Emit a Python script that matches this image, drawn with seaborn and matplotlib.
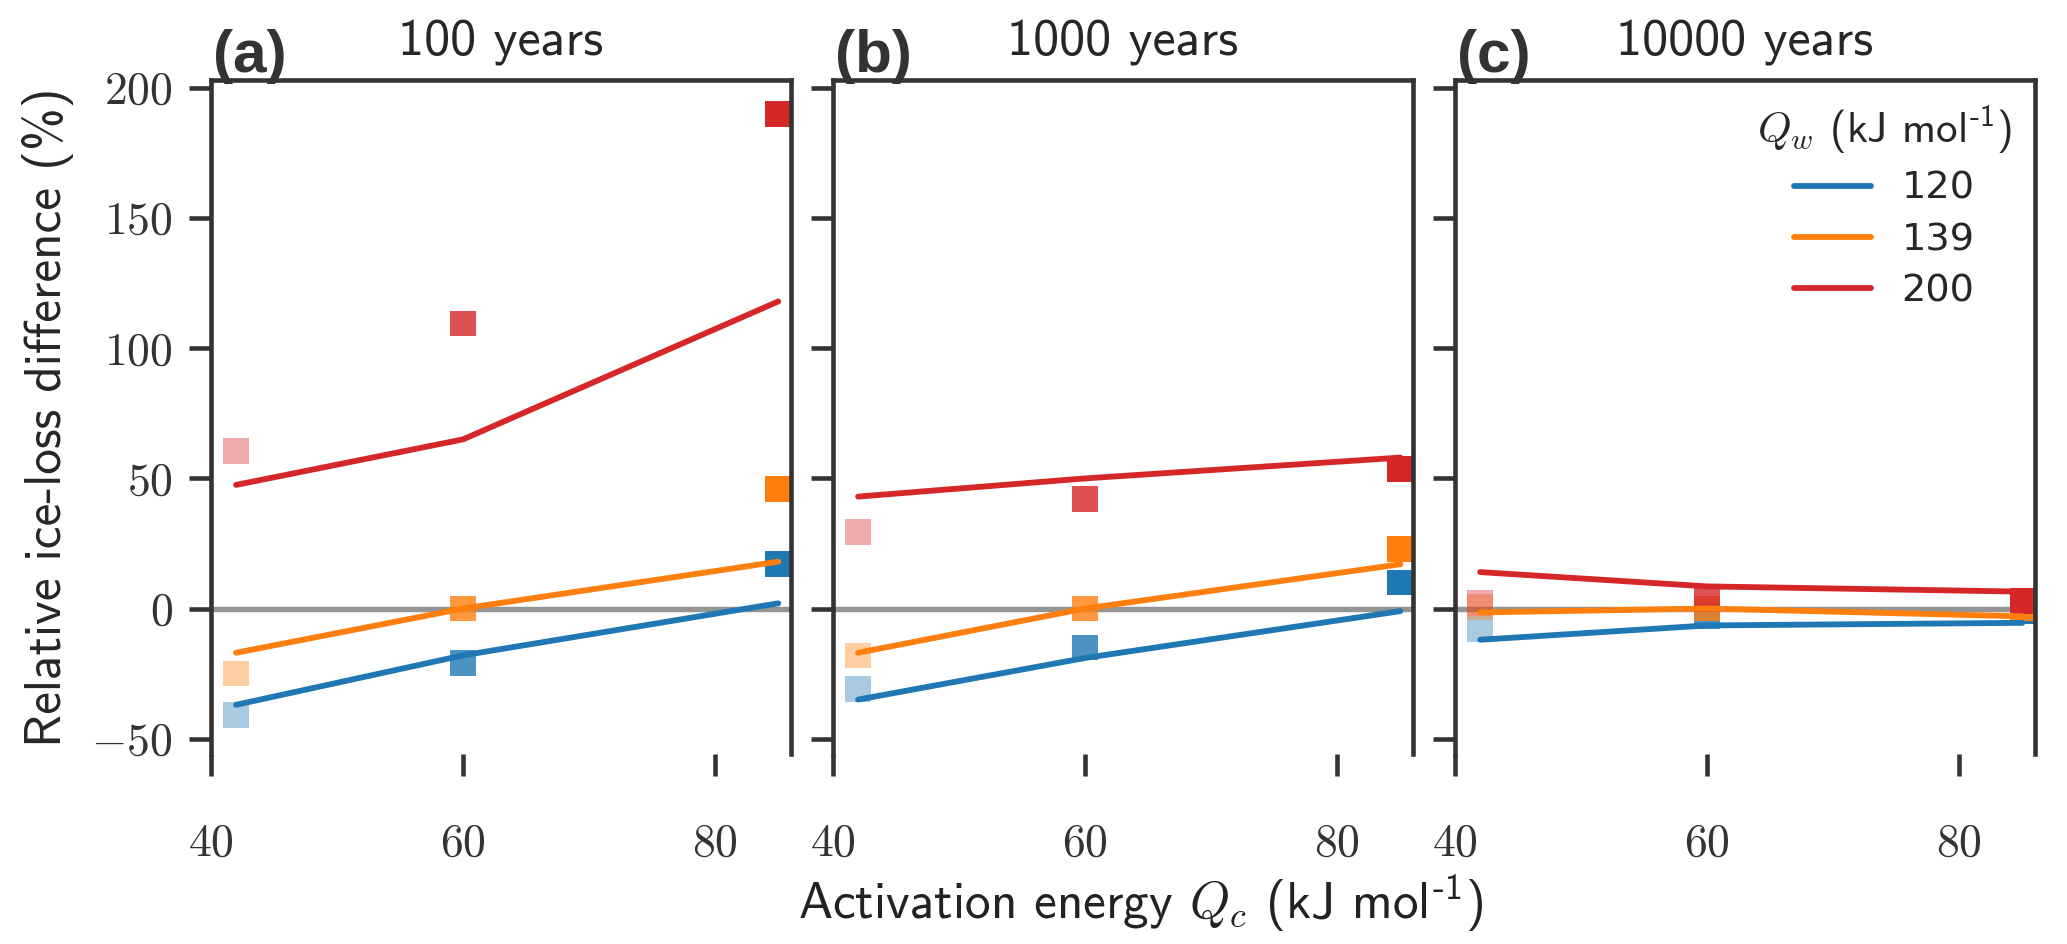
import numpy as np
import pandas as pd
import matplotlib.pyplot as plt
import seaborn as sns
from matplotlib.lines import Line2D
from matplotlib.ticker import FuncFormatter

# activation energy Qc (x) and creep activation energy Qw (hue)
qc = [42, 60, 85]
qw = [120, 139, 200]
periods = ['100 years', '1000 years', '10000 years']
letters = ['(a)', '(b)', '(c)']

# lines (model fit) per panel, per Qw
line_100 = {120: [-37, -18, 2], 139: [-17, 0, 18], 200: [47.5, 65, 118]}
line_1000 = {120: [-35, -19, -1], 139: [-17, 0, 17], 200: [43, 50, 58]}
line_10000 = {120: [-12, -6.5, -5.5], 139: [-1.5, 0, -3], 200: [14, 8.5, 6.5]}

# square markers (simulations) per panel, per Qw
mark_100 = {120: [-41, -21, 17], 139: [-25, 0, 46], 200: [60.5, 109.5, 190]}
mark_1000 = {120: [-31, -15, 10], 139: [-18, 0, 23], 200: [29.5, 42, 53.5]}
mark_10000 = {120: [-8, -3, -1], 139: [0.5, 0, 0], 200: [2, 3.5, 3]}

lines_all = [line_100, line_1000, line_10000]
marks_all = [mark_100, mark_1000, mark_10000]
alphas = {42: 0.38, 60: 0.8, 85: 1.0}

colors = {120: '#1f77b4', 139: '#ff7f0e', 200: '#d62728'}

sns.set_theme(style='ticks', context='paper')
plt.rcParams['font.family'] = ['cmss10', 'DejaVu Sans']
plt.rcParams['mathtext.fontset'] = 'custom'
plt.rcParams['mathtext.rm'] = 'cmss10'
plt.rcParams['mathtext.sf'] = 'cmss10'
plt.rcParams['mathtext.it'] = 'cmmi10'
plt.rcParams['mathtext.fallback'] = 'cm'
plt.rcParams['axes.unicode_minus'] = False
plt.rcParams['axes.edgecolor'] = '#333333'
plt.rcParams['xtick.color'] = '#333333'
plt.rcParams['ytick.color'] = '#333333'
plt.rcParams['axes.linewidth'] = 1.1

fig, axes = plt.subplots(1, 3, figsize=(2067 / 300, 944 / 300), dpi=300, sharey=True)
fig.subplots_adjust(left=0.102, right=0.9845, top=0.915, bottom=0.201, wspace=0.0724)

for i, ax in enumerate(axes):
    rows = []
    for q in qw:
        for j, c in enumerate(qc):
            rows.append({'Qc': c, 'Qw': q, 'line': lines_all[i][q][j], 'mark': marks_all[i][q][j]})
    df = pd.DataFrame(rows)

    ax.axhline(0, color='0.58', lw=1.3, zorder=0)

    for c in qc:
        sub = df[df['Qc'] == c]
        sns.scatterplot(data=sub, x='Qc', y='mark', hue='Qw', palette=colors,
                        marker='s', s=38, alpha=alphas[c], linewidth=0,
                        legend=False, ax=ax, zorder=2)

    sns.lineplot(data=df, x='Qc', y='line', hue='Qw', palette=colors,
                 lw=1.4, legend=False, ax=ax, zorder=3)

    ax.set_xlim(40, 86)
    ax.set_ylim(-56, 203)
    ax.set_xticks([40, 60, 80])
    ax.set_yticks([-50, 0, 50, 100, 150, 200])
    ax.xaxis.set_major_formatter(FuncFormatter(lambda v, p: f'${v:g}$'))
    ax.yaxis.set_major_formatter(FuncFormatter(lambda v, p: f'${v:g}$'))
    ax.tick_params(axis='both', length=5.2, width=1.1, labelsize=11)
    ax.tick_params(axis='x', pad=11.5)
    ax.tick_params(axis='y', pad=4)
    for lbl in ax.get_xticklabels() + ax.get_yticklabels():
        lbl.set_math_fontfamily('cm')
    ax.spines['bottom'].set_visible(False)
    ax.set_xlabel('')
    ax.set_ylabel('')
    ax.set_title(periods[i], fontsize=12.5, pad=6)
    ax.text(0.004, 1.012, letters[i], transform=ax.transAxes, ha='left', va='baseline',
            fontsize=14.5, fontweight='bold', family='Liberation Sans', color='#333333')

axes[0].set_ylabel('Relative ice-loss difference (%)', fontsize=12.3, labelpad=4)
fig.text(0.5517, 0.027, r'Activation energy $Q_c$ (kJ mol$^{\text{-1}}$)',
         ha='center', va='baseline', fontsize=12.3, color='#222222')

handles = [Line2D([0], [0], color=colors[q], lw=1.4) for q in qw]
leg = axes[2].legend(handles, [str(q) for q in qw], title=r'$Q_w$ (kJ mol$^{\text{-1}}$)',
                     loc='upper right', frameon=False, fontsize=9.2, title_fontsize=10.3,
                     handlelength=2.0, labelspacing=0.4, borderaxespad=0.2)
for t in leg.get_texts():
    t.set_family('DejaVu Sans')

fig.savefig('out.png', dpi=300)
